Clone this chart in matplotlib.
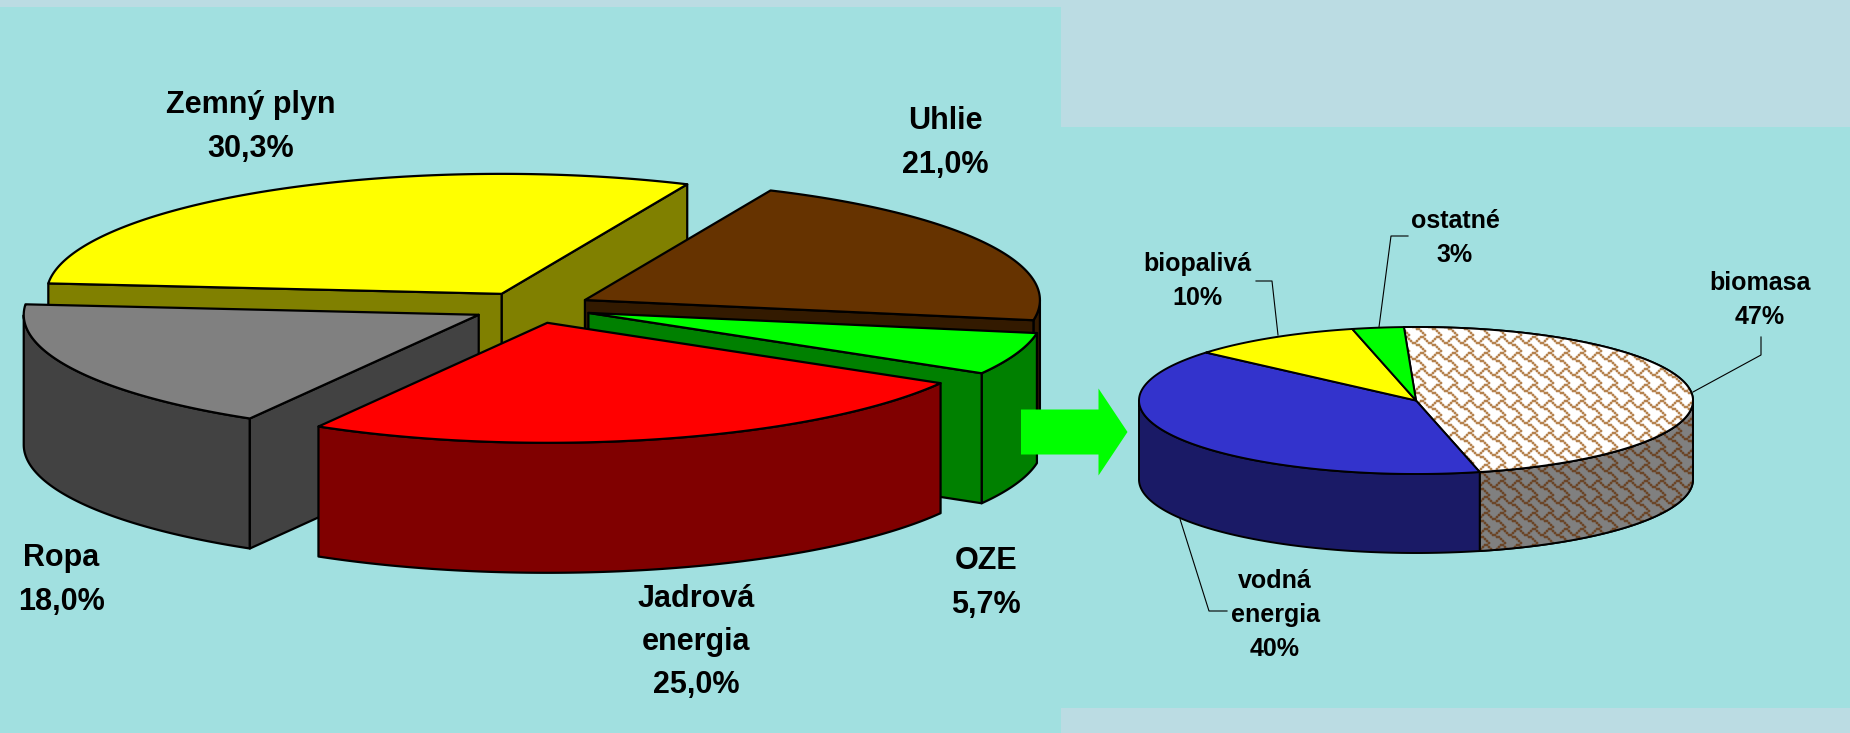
import numpy as np
import matplotlib
matplotlib.use("Agg")
import matplotlib.pyplot as plt
from matplotlib.patches import FancyArrow, Polygon, Rectangle

# Energy mix
main_names = ["Zemný plyn", "Uhlie", "OZE", "Jadrová\nenergia", "Ropa"]
main_values = [30.3, 21.0, 5.7, 25.0, 18.0]
main_top = ["#ffff00", "#663300", "#00ff00", "#ff0000", "#808080"]
main_side = ["#808000", "#331a00", "#008000", "#800000", "#424242"]
main_label_xy = [(251, 127), (945, 143), (986, 583), (696, 642), (61, 580)]

# Renewable sources
oze_names = ["biomasa", "vodná\nenergia", "biopalivá", "ostatné"]
oze_values = [47, 40, 10, 3]
oze_top = ["#ffffff", "#3333cc", "#ffff00", "#00ff00"]
oze_side = ["#808080", "#1a1a66", "#808000", "#008000"]
oze_label_xy = [(1760, 300), (1275, 615), (1197, 281), (1455, 238)]
oze_leaders = [
    [(1761, 337), (1761, 355), (1693, 392)],
    [(1227, 611), (1209, 611), (1180, 519)],
    [(1256, 281), (1272, 281), (1278, 335)],
    [(1408, 236), (1391, 236), (1379, 327)],
]

PANEL = "#a1e0e0"
LIGHT = "#bbdce3"

# shingle fill, 8x8 bitmap
SHINGLE = np.array([
    [0, 0, 0, 0, 0, 0, 1, 1],
    [1, 0, 0, 0, 0, 1, 0, 0],
    [0, 1, 0, 0, 1, 0, 0, 0],
    [0, 0, 1, 1, 0, 0, 0, 0],
    [0, 0, 0, 0, 1, 1, 0, 0],
    [0, 0, 0, 0, 0, 0, 1, 0],
    [0, 0, 0, 0, 0, 0, 0, 1],
    [1, 0, 0, 0, 0, 0, 0, 0],
], dtype=float)


def shingle_fill(ax, patch, back, line):
    x0, y0 = np.floor(patch.get_xy().min(axis=0)).astype(int)
    x1, y1 = np.ceil(patch.get_xy().max(axis=0)).astype(int)
    big = np.tile(SHINGLE.repeat(2, axis=0).repeat(2, axis=1), (46, 116))
    # soften the bitmap edges a little
    soft = (big * 4 + np.roll(big, 1, 0) + np.roll(big, -1, 0)
            + np.roll(big, 1, 1) + np.roll(big, -1, 1)) / 4
    soft = np.clip(soft, 0, 1)[y0:y1, x0:x1, None]
    back = np.array(matplotlib.colors.to_rgb(back))
    line = np.array(matplotlib.colors.to_rgb(line))
    im = ax.imshow(back * (1 - soft) + line * soft, extent=(x0, x1, y1, y0),
                   aspect="auto", interpolation="nearest", zorder=patch.get_zorder())
    im.set_clip_path(patch)


def draw_pie(ax, values, top, side, cx, cy, rx, ry, depth, start, explode=0, hatch=None, lw=1.6, order=None):
    angle = start
    slices = []
    for i, v in enumerate(values):
        a = angle - v * 3.6
        b = angle
        angle = a
        mid = np.radians((a + b) / 2)
        ax_x = cx + explode * np.cos(mid)
        ax_y = cy - explode * ry / rx * np.sin(mid)
        t = np.radians(np.linspace(a, b, 240))
        px = ax_x + rx * np.cos(t)
        py = ax_y - ry * np.sin(t)

        shapes = []
        # outer wall, only the part turned to the viewer
        vis = np.sin(t) <= 0
        if vis.any():
            wall = np.r_[np.c_[px[vis], py[vis]], np.c_[px[vis], py[vis] + depth][::-1]]
            shapes.append((wall, side[i], "side"))
        # cut faces of exploded slices
        if explode > 0:
            for edge, normal in ((a, a - 90), (b, b + 90)):
                if np.sin(np.radians(normal)) < 0:
                    ex = ax_x + rx * np.cos(np.radians(edge))
                    ey = ax_y - ry * np.sin(np.radians(edge))
                    face = [(ax_x, ax_y), (ex, ey), (ex, ey + depth), (ax_x, ax_y + depth)]
                    shapes.append((np.array(face), side[i], "side"))
        shapes.append((np.r_[[(ax_x, ax_y)], np.c_[px, py]], top[i], "top"))
        slices.append(shapes)

    z = 2
    for i in (order if order is not None else range(len(values))):
        for xy, color, kind in slices[i]:
            z += 1
            patch = Polygon(xy, closed=True, facecolor=color, edgecolor="black",
                            linewidth=lw, joinstyle="round", zorder=z)
            ax.add_patch(patch)
            if hatch is not None and hatch[i] is not None:
                z += 1
                shingle_fill(ax, patch, color, hatch[i][kind])
                z += 1
                ax.add_patch(Polygon(xy, closed=True, facecolor="none", edgecolor="black",
                                     linewidth=lw, zorder=z))


fig = plt.figure(figsize=(18.5, 7.33), dpi=100, facecolor=LIGHT)
ax = fig.add_axes([0, 0, 1, 1])
ax.axis("off")

ax.add_patch(Rectangle((0, 7), 1061, 726, facecolor=PANEL, edgecolor="none", zorder=0))
ax.add_patch(Rectangle((1061, 127), 789, 581, facecolor=PANEL, edgecolor="none", zorder=0))

draw_pie(ax, main_values, main_top, main_side, 532, 307.5, 455, 120, 130, 175, explode=60,
         order=[0, 1, 2, 4, 3])

oze_hatch = [{"top": "#b5824e", "side": "#6b4527"}, None, None, None]
draw_pie(ax, oze_values, oze_top, oze_side, 1416, 400.5, 277, 73.5, 79, 92.5, hatch=oze_hatch, lw=1.4)

ax.add_patch(FancyArrow(1021, 432, 106.5, 0, width=45, head_width=87, head_length=29,
                        length_includes_head=True, facecolor="#00ff00", edgecolor="none", zorder=60))

for name, v, (x, y) in zip(main_names, main_values, main_label_xy):
    ax.text(x, y, name + "\n" + f"{v:.1f}".replace(".", ",") + "%", ha="center", va="center",
            family="Liberation Sans", fontweight="bold", fontsize=22, linespacing=1.58, zorder=70)

for name, v, (x, y) in zip(oze_names, oze_values, oze_label_xy):
    ax.text(x, y, f"{name}\n{v}%", ha="center", va="center",
            family="Liberation Sans", fontweight="bold", fontsize=18, linespacing=1.5, zorder=70)

for pts in oze_leaders:
    xs, ys = zip(*pts)
    ax.plot(xs, ys, color="black", lw=0.8, zorder=65)

ax.set_xlim(0, 1850)
ax.set_ylim(733, 0)
fig.savefig("out.png", dpi=100, facecolor=fig.get_facecolor())
